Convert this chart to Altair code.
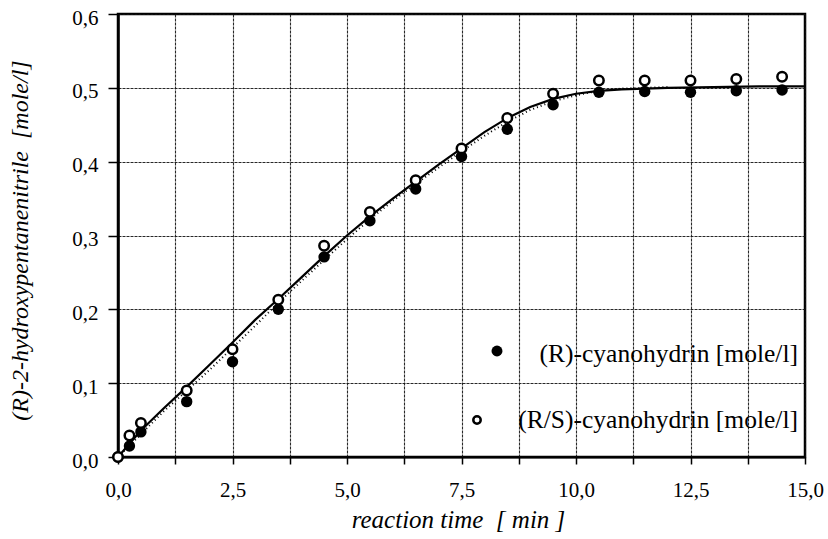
import altair as alt
import pandas as pd

# Measured concentrations of the cyanohydrin over reaction time
times = [0, 0.25, 0.5, 1.5, 2.5, 3.5, 4.5, 5.5, 6.5, 7.5, 8.5, 9.5, 10.5, 11.5, 12.5, 13.5, 14.5]
r_vals = [0.0, 0.015, 0.034, 0.075, 0.129, 0.200, 0.271, 0.320, 0.363, 0.407, 0.444, 0.477,
          0.494, 0.495, 0.494, 0.496, 0.497]
rs_vals = [0.0, 0.029, 0.046, 0.090, 0.146, 0.213, 0.286, 0.332, 0.375, 0.418, 0.459, 0.492,
           0.510, 0.510, 0.510, 0.512, 0.515]

# Fitted model curve (solid) and the second model run (dotted)
fit_t = [0, 0.5, 1.0, 1.5, 2.0, 2.5, 3.0, 3.5, 4.0, 4.5, 5.0, 5.5, 6.0, 6.5, 7.0, 7.5, 8.0,
         8.5, 9.0, 9.5, 10.0, 10.5, 11.0, 11.5, 12.0, 13.0, 14.0, 15.0]
fit_y = [0.0, 0.036, 0.066, 0.095, 0.125, 0.155, 0.186, 0.214, 0.243, 0.272, 0.300, 0.326,
         0.350, 0.373, 0.396, 0.418, 0.440, 0.459, 0.474, 0.485, 0.492, 0.496, 0.498, 0.499,
         0.500, 0.501, 0.502, 0.502]
fit2_t = [0, 1.0, 2.0, 2.5, 3.0, 3.5, 4.0, 4.5, 5.0, 5.5, 6.0, 6.5, 7.0, 7.5, 8.0, 8.5, 9.0,
          9.5, 10.0, 10.5, 11.0, 11.5, 12.0]
fit2_y = [0.0, 0.062, 0.118, 0.148, 0.178, 0.209, 0.238, 0.267, 0.295, 0.322, 0.347, 0.370,
          0.392, 0.414, 0.435, 0.454, 0.470, 0.482, 0.490, 0.496, 0.499, 0.500, 0.501]

legend_labels = ["(R)-cyanohydrin [mole/l]", "(R/S)-cyanohydrin [mole/l]"]

x_ticks = [i * 1.25 for i in range(13)]
y_ticks = [round(i * 0.1, 1) for i in range(7)]

FONT = "'Liberation Serif', 'Times New Roman', serif"
NBSP = "\u00a0"
W, H = 687, 443

pts = pd.DataFrame({"t": times, "r": r_vals, "rs": rs_vals})
fit = pd.DataFrame({"t": fit_t, "y": fit_y})
fit2 = pd.DataFrame({"t": fit2_t, "y": fit2_y})

xs = alt.Scale(domain=[0, 15], nice=False, zero=False)
ys = alt.Scale(domain=[0, 0.6], nice=False)

grid_style = dict(grid=True, gridColor="#111111", gridDash=[3, 1], gridWidth=1.1, gridOpacity=0.9)

x_axis = alt.Axis(
    values=x_ticks, **grid_style,
    domainColor="black", domainWidth=2, tickColor="black", tickWidth=1.5, tickSize=7,
    labelExpr="datum.value % 2.5 == 0 ? replace(format(datum.value, '.1f'), '.', ',') : ''",
    labelFont=FONT, labelFontSize=21, labelColor="black", labelPadding=15,
    labelOverlap=False, labelFlush=False,
    title=f"reaction time {NBSP}[ min ]", titleFont=FONT, titleFontSize=25,
    titleFontStyle="italic", titleFontWeight="normal", titleColor="black",
    titleX=340, titleY=62, titleAlign="center", titleBaseline="middle",
)
y_axis = alt.Axis(
    values=y_ticks, **grid_style,
    domainColor="black", domainWidth=2.5, tickColor="black", tickWidth=1.5, tickSize=10,
    labelExpr="replace(format(datum.value, '.1f'), '.', ',')",
    labelFont=FONT, labelFontSize=21, labelColor="black", labelPadding=10, labelOffset=4,
    title=f"(R)-2-hydroxypentanenitrile {NBSP}[mole/l]", titleFont=FONT, titleFontSize=24,
    titleFontStyle="italic", titleFontWeight="normal", titleColor="black",
    titleX=-98, titleY=226, titleAngle=270, titleAlign="center", titleBaseline="middle",
)


def xenc():
    return alt.X("t:Q", scale=xs, axis=x_axis)


def yenc(field):
    return alt.Y(f"{field}:Q", scale=ys, axis=y_axis)


curve = alt.Chart(fit).mark_line(color="black", strokeWidth=2.2).encode(x=xenc(), y=yenc("y"))
curve2 = alt.Chart(fit2).mark_line(color="black", strokeWidth=2, strokeDash=[1, 3]).encode(
    x=xenc(), y=yenc("y"))
filled = alt.Chart(pts).mark_circle(size=130, color="black", opacity=1).encode(
    x=xenc(), y=yenc("r"))
hollow = alt.Chart(pts).mark_point(
    shape="circle", filled=True, fill="white", stroke="black", strokeWidth=2.5, size=90, opacity=1
).encode(x=xenc(), y=yenc("rs"))

# Key inside the plot, lower right
key_r_sym = alt.Chart(alt.Data(values=[{"k": 0}])).mark_circle(size=120, color="black", opacity=1).encode(
    x=alt.value(379), y=alt.value(337))
key_rs_sym = alt.Chart(alt.Data(values=[{"k": 1}])).mark_point(
    shape="circle", filled=True, fill="white", stroke="black", strokeWidth=2.5, size=55, opacity=1
).encode(x=alt.value(359), y=alt.value(406))
key_r_txt = alt.Chart(alt.Data(values=[{"label": legend_labels[0]}])).mark_text(
    font=FONT, fontSize=25.5, align="right", baseline="middle", color="black"
).encode(x=alt.value(680), y=alt.value(340), text="label:N")
key_rs_txt = alt.Chart(alt.Data(values=[{"label": legend_labels[1]}])).mark_text(
    font=FONT, fontSize=25.5, align="right", baseline="middle", color="black"
).encode(x=alt.value(680), y=alt.value(406), text="label:N")

chart = alt.layer(
    curve, curve2, filled, hollow, key_r_sym, key_rs_sym, key_r_txt, key_rs_txt
).properties(
    width=W, height=H,
    padding={"left": 118, "top": 14, "right": 23, "bottom": 82},
    autosize=alt.AutoSizeParams(type="none"),
    background="white",
).configure_view(stroke="black", strokeWidth=2.5)

chart.save("out.html", embed_options={"renderer": "svg", "actions": False})
